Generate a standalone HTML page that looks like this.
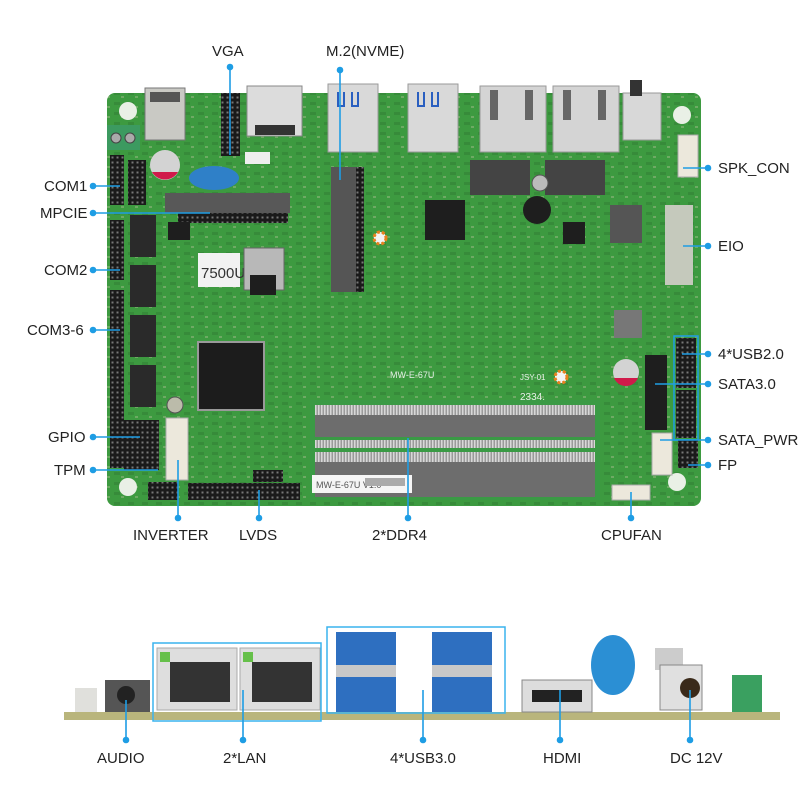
<!DOCTYPE html>
<html><head><meta charset="utf-8"><style>
html,body{margin:0;padding:0;background:#fff;width:800px;height:800px;overflow:hidden}
svg{display:block}
text{font-family:"Liberation Sans Narrow","Liberation Sans",sans-serif;font-size:15px;fill:#222}
</style></head><body>
<svg width="800" height="800" viewBox="0 0 800 800" xmlns="http://www.w3.org/2000/svg">
<defs>
<pattern id="pins" width="5" height="5" patternUnits="userSpaceOnUse"><rect width="5" height="5" fill="#1a1a1a"/><rect x="1.5" y="1.5" width="2" height="2" fill="#777"/></pattern>
<pattern id="dimm" width="3" height="8" patternUnits="userSpaceOnUse"><rect width="3" height="8" fill="#9a9a9a"/><rect width="1.5" height="8" fill="#d8d8d8"/></pattern>
<pattern id="chips" width="14" height="10" patternUnits="userSpaceOnUse"><rect width="14" height="10" fill="#3d9a3f"/><rect x="2" y="2" width="6" height="3" fill="#2b6e2f"/><rect x="9" y="6" width="3" height="2" fill="#c9c9a8"/></pattern>
</defs>
<rect x="107" y="93" width="594" height="413" rx="8" fill="#3d9a40"/>
<rect x="107" y="93" width="594" height="413" rx="8" fill="url(#chips)" opacity="0.35"/>
<rect x="145" y="88" width="40" height="52" fill="#c9c9c4" stroke="#777"/>
<rect x="150" y="92" width="30" height="10" fill="#555"/>
<rect x="107" y="125" width="33" height="25" fill="#3c9a60"/>
<circle cx="116" cy="138" r="5" fill="#aaa" stroke="#444"/><circle cx="130" cy="138" r="5" fill="#aaa" stroke="#444"/>
<rect x="221" y="93" width="19" height="63" fill="url(#pins)"/>
<rect x="247" y="86" width="55" height="50" fill="#dcdcdc" stroke="#888"/>
<rect x="255" y="125" width="40" height="10" fill="#333"/>
<rect x="245" y="152" width="25" height="12" fill="#eee"/>
<rect x="328" y="84" width="50" height="68" fill="#d9d9d9" stroke="#999"/>
<path d="M338 92 v14 h6 v-14 M352 92 v14 h6 v-14" stroke="#2a5fc0" stroke-width="2" fill="none"/>
<rect x="408" y="84" width="50" height="68" fill="#d9d9d9" stroke="#999"/>
<path d="M418 92 v14 h6 v-14 M432 92 v14 h6 v-14" stroke="#2a5fc0" stroke-width="2" fill="none"/>
<rect x="480" y="86" width="66" height="66" fill="#d4d4d4" stroke="#999"/>
<rect x="553" y="86" width="66" height="66" fill="#d4d4d4" stroke="#999"/>
<rect x="490" y="90" width="8" height="30" fill="#666"/><rect x="525" y="90" width="8" height="30" fill="#666"/>
<rect x="563" y="90" width="8" height="30" fill="#666"/><rect x="598" y="90" width="8" height="30" fill="#666"/>
<rect x="623" y="93" width="38" height="47" fill="#d8d8d8" stroke="#999"/>
<rect x="630" y="80" width="12" height="16" fill="#333"/>
<rect x="470" y="160" width="60" height="35" fill="#444"/><rect x="545" y="160" width="60" height="35" fill="#444"/>
<circle cx="540" cy="183" r="8" fill="#bbb" stroke="#555"/>
<circle cx="537" cy="210" r="14" fill="#1e1e1e"/>
<rect x="610" y="205" width="32" height="38" fill="#555"/>
<rect x="425" y="200" width="40" height="40" fill="#1e1e1e"/>
<rect x="563" y="222" width="22" height="22" fill="#1e1e1e"/>
<circle cx="165" cy="165" r="15" fill="#d3d3d3"/><path d="M152 172 a15 15 0 0 0 26 0z" fill="#d01a4a"/>
<ellipse cx="214" cy="178" rx="25" ry="12" fill="#2f80c8"/>
<circle cx="626" cy="372" r="13" fill="#d3d3d3"/><path d="M614 378 a13 13 0 0 0 24 0z" fill="#d01a4a"/>
<circle cx="128" cy="111" r="9" fill="#e9f0e6"/><circle cx="682" cy="115" r="9" fill="#e9f0e6"/>
<circle cx="128" cy="487" r="9" fill="#e9f0e6"/><circle cx="677" cy="482" r="9" fill="#e9f0e6"/>
<circle cx="380" cy="238" r="6" fill="#f4f4f4" stroke="#e8801e" stroke-width="3" stroke-dasharray="3 2"/>
<circle cx="561" cy="377" r="6" fill="#f4f4f4" stroke="#e8801e" stroke-width="3" stroke-dasharray="3 2"/>
<rect x="331" y="167" width="25" height="125" fill="#555"/>
<rect x="356" y="167" width="8" height="125" fill="url(#pins)"/>
<rect x="165" y="193" width="125" height="20" fill="#585858"/>
<rect x="178" y="213" width="110" height="10" fill="url(#pins)"/>
<rect x="198" y="253" width="42" height="34" fill="#f2f2f2"/>
<text x="201" y="278" style="font-size:15px;fill:#333">7500U</text>
<rect x="244" y="248" width="40" height="42" fill="#b8b8b8" stroke="#666"/>
<rect x="110" y="155" width="14" height="50" fill="url(#pins)"/>
<rect x="110" y="220" width="14" height="60" fill="url(#pins)"/>
<rect x="110" y="290" width="14" height="178" fill="url(#pins)"/>
<rect x="128" y="160" width="18" height="45" fill="url(#pins)"/>
<rect x="130" y="215" width="26" height="42" fill="#2a2a2a"/>
<rect x="130" y="265" width="26" height="42" fill="#2a2a2a"/>
<rect x="130" y="315" width="26" height="42" fill="#2a2a2a"/>
<rect x="130" y="365" width="26" height="42" fill="#2a2a2a"/>
<rect x="124" y="420" width="35" height="50" fill="url(#pins)"/>
<circle cx="175" cy="405" r="8" fill="#bba" stroke="#555"/>
<rect x="166" y="418" width="22" height="62" fill="#ece8dc" stroke="#aaa"/>
<rect x="148" y="482" width="30" height="18" fill="url(#pins)"/>
<rect x="188" y="483" width="112" height="17" fill="url(#pins)"/>
<rect x="253" y="470" width="30" height="12" fill="url(#pins)"/>
<rect x="198" y="342" width="66" height="68" fill="#1c1c1c" stroke="#999" stroke-width="2"/>
<rect x="250" y="275" width="26" height="20" fill="#1e1e1e"/>
<rect x="168" y="222" width="22" height="18" fill="#1e1e1e"/>
<rect x="310" y="400" width="290" height="100" fill="#3a9a45"/>
<rect x="315" y="405" width="280" height="10" fill="url(#dimm)"/>
<rect x="315" y="415" width="280" height="22" fill="#6d6d6d"/>
<rect x="315" y="440" width="280" height="8" fill="url(#dimm)"/>
<rect x="315" y="452" width="280" height="10" fill="url(#dimm)"/>
<rect x="315" y="462" width="280" height="35" fill="#6d6d6d"/>
<rect x="312" y="475" width="100" height="18" fill="#f5f5f5"/>
<text x="316" y="488" style="font-size:9px;fill:#555">MW-E-67U V1.0</text>
<rect x="365" y="478" width="40" height="8" fill="#aaa"/>
<text x="390" y="378" style="font-size:9px;fill:#e6f0e6">MW-E-67U</text>
<text x="520" y="380" style="font-size:8px;fill:#e6f0e6">JSY-01</text>
<text x="520" y="400" style="font-size:10px;fill:#e6f0e6">2334.</text>
<rect x="665" y="205" width="28" height="80" fill="#c5c9bc"/>
<rect x="678" y="135" width="20" height="42" fill="#ece8dc" stroke="#aaa"/>
<rect x="645" y="355" width="22" height="75" fill="#1e1e1e"/>
<rect x="676" y="338" width="20" height="50" fill="url(#pins)"/>
<rect x="676" y="390" width="20" height="48" fill="url(#pins)"/>
<rect x="674" y="336" width="24" height="104" fill="none" stroke="#1e9de4" stroke-width="1.5"/>
<rect x="652" y="433" width="20" height="42" fill="#ece8dc" stroke="#aaa"/>
<rect x="678" y="440" width="20" height="28" fill="url(#pins)"/>
<rect x="612" y="485" width="38" height="15" fill="#ece8dc" stroke="#aaa"/>
<rect x="614" y="310" width="28" height="28" fill="#777"/>

<g stroke="#1e9de4" stroke-width="1.6" fill="#1e9de4">
<line x1="230" y1="67" x2="230" y2="155"/><circle cx="230" cy="67" r="2.5"/>
<line x1="340" y1="70" x2="340" y2="180"/><circle cx="340" cy="70" r="2.5"/>
<line x1="683" y1="168" x2="708" y2="168"/><circle cx="708" cy="168" r="2.5"/>
<line x1="683" y1="246" x2="708" y2="246"/><circle cx="708" cy="246" r="2.5"/>
<line x1="682" y1="354" x2="708" y2="354"/><circle cx="708" cy="354" r="2.5"/>
<line x1="655" y1="384" x2="708" y2="384"/><circle cx="708" cy="384" r="2.5"/>
<line x1="660" y1="440" x2="708" y2="440"/><circle cx="708" cy="440" r="2.5"/>
<line x1="688" y1="465" x2="708" y2="465"/><circle cx="708" cy="465" r="2.5"/>
<line x1="93" y1="186" x2="120" y2="186"/><circle cx="93" cy="186" r="2.5"/>
<line x1="93" y1="213" x2="210" y2="213"/><circle cx="93" cy="213" r="2.5"/>
<line x1="93" y1="270" x2="120" y2="270"/><circle cx="93" cy="270" r="2.5"/>
<line x1="93" y1="330" x2="120" y2="330"/><circle cx="93" cy="330" r="2.5"/>
<line x1="93" y1="437" x2="140" y2="437"/><circle cx="93" cy="437" r="2.5"/>
<line x1="93" y1="470" x2="158" y2="470"/><circle cx="93" cy="470" r="2.5"/>
<line x1="178" y1="460" x2="178" y2="518"/><circle cx="178" cy="518" r="2.5"/>
<line x1="259" y1="490" x2="259" y2="518"/><circle cx="259" cy="518" r="2.5"/>
<line x1="408" y1="438" x2="408" y2="518"/><circle cx="408" cy="518" r="2.5"/>
<line x1="631" y1="492" x2="631" y2="518"/><circle cx="631" cy="518" r="2.5"/>
</g>
<text x="212" y="56">VGA</text>
<text x="326" y="56">M.2(NVME)</text>
<text x="718" y="173">SPK_CON</text>
<text x="718" y="251">EIO</text>
<text x="718" y="359">4*USB2.0</text>
<text x="718" y="389">SATA3.0</text>
<text x="718" y="445">SATA_PWR</text>
<text x="718" y="470">FP</text>
<text x="44" y="191">COM1</text>
<text x="40" y="218">MPCIE</text>
<text x="44" y="275">COM2</text>
<text x="27" y="335">COM3-6</text>
<text x="48" y="442">GPIO</text>
<text x="54" y="475">TPM</text>
<text x="133" y="540">INVERTER</text>
<text x="239" y="540">LVDS</text>
<text x="372" y="540">2*DDR4</text>
<text x="601" y="540">CPUFAN</text>

<rect x="64" y="712" width="716" height="8" fill="#b9b57c"/>
<rect x="75" y="688" width="22" height="24" fill="#e0e0dc"/>
<rect x="105" y="680" width="45" height="32" fill="#555"/>
<circle cx="126" cy="695" r="9" fill="#222"/>
<rect x="157" y="648" width="80" height="62" fill="#dedede" stroke="#aaa"/>
<rect x="240" y="648" width="80" height="62" fill="#dedede" stroke="#aaa"/>
<rect x="170" y="662" width="60" height="40" fill="#333"/><rect x="252" y="662" width="60" height="40" fill="#333"/>
<rect x="160" y="652" width="10" height="10" fill="#66c04a"/><rect x="243" y="652" width="10" height="10" fill="#66c04a"/>
<rect x="336" y="632" width="60" height="80" fill="#2e6fc0"/>
<rect x="432" y="632" width="60" height="80" fill="#2e6fc0"/>
<rect x="336" y="665" width="60" height="12" fill="#c8c8c8"/><rect x="432" y="665" width="60" height="12" fill="#c8c8c8"/>
<rect x="522" y="680" width="70" height="32" fill="#ddd" stroke="#888"/>
<rect x="532" y="690" width="50" height="12" fill="#222"/>
<ellipse cx="613" cy="665" rx="22" ry="30" fill="#2b8fd4"/>
<rect x="655" y="648" width="28" height="22" fill="#ccc"/>
<rect x="660" y="665" width="42" height="45" fill="#e0e0e0" stroke="#888"/>
<circle cx="690" cy="688" r="10" fill="#3a2a1a"/>
<rect x="732" y="675" width="30" height="37" fill="#3aa060"/>
<rect x="153" y="643" width="168" height="78" fill="none" stroke="#3ab3ee" stroke-width="1.5"/>
<rect x="327" y="627" width="178" height="86" fill="none" stroke="#3ab3ee" stroke-width="1.5"/>
<g stroke="#1e9de4" stroke-width="1.6" fill="#1e9de4">
<line x1="126" y1="700" x2="126" y2="740"/><circle cx="126" cy="740" r="2.5"/>
<line x1="243" y1="690" x2="243" y2="740"/><circle cx="243" cy="740" r="2.5"/>
<line x1="423" y1="690" x2="423" y2="740"/><circle cx="423" cy="740" r="2.5"/>
<line x1="560" y1="690" x2="560" y2="740"/><circle cx="560" cy="740" r="2.5"/>
<line x1="690" y1="690" x2="690" y2="740"/><circle cx="690" cy="740" r="2.5"/>
</g>
<text x="97" y="763">AUDIO</text>
<text x="223" y="763">2*LAN</text>
<text x="390" y="763">4*USB3.0</text>
<text x="543" y="763">HDMI</text>
<text x="670" y="763">DC 12V</text>
</svg>
</body></html>
